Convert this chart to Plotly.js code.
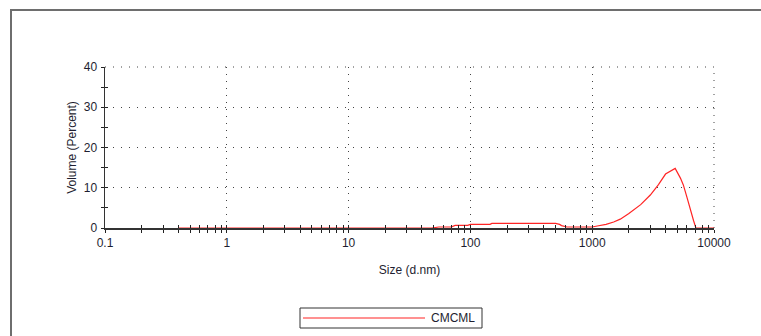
<!DOCTYPE html>
<html>
<head>
<meta charset="utf-8">
<script src="https://cdn.plot.ly/plotly-3.0.1.min.js"></script>
<style>
  html, body { margin: 0; padding: 0; background: #fff; }
  #wrap { position: relative; width: 761px; height: 336px; overflow: hidden; }
  #chart { position: absolute; left: 0; top: 0; width: 761px; height: 336px; }
  #frame { position: absolute; left: 10px; top: 9px; width: 760px; height: 340px;
           border-left: 2px solid #6e6e6e; border-top: 2px solid #6e6e6e; pointer-events: none; }
</style>
</head>
<body>
<div id="wrap">
  <div id="chart"></div>
  <div id="frame"></div>
</div>
<script>
// Size distribution by volume (Zetasizer-style report)
const sampleName = 'CMCML';
const sizeNm = [0.4, 48, 55, 70, 75, 95, 100, 145, 150, 480, 500, 540, 560, 620, 1000, 1100,
                1300, 1500, 1700, 2000, 2500, 3000, 3500, 4000, 4500, 4800, 5300, 5600, 6000,
                6400, 6800, 7100, 10000];
const volumePct = [0, 0, 0.25, 0.3, 0.65, 0.65, 0.9, 0.9, 1.15, 1.15, 1.15, 0.9, 0.6, 0.25, 0.25, 0.5,
                   0.9, 1.5, 2.2, 3.6, 5.8, 8.2, 10.8, 13.4, 14.3, 14.8, 12.4, 10.7, 7.6,
                   4.3, 1.8, 0, 0];

const xTickVals = [0.1, 1, 10, 100, 1000, 10000];
const xTickText = ['0.1', '1', '10', '100', '1000', '10000'];
const yTickVals = [0, 10, 20, 30, 40];

// minor ticks at 2..9 of every decade, 5-unit steps on the volume axis
const xMinor = [];
for (let d = 0.1; d < 10000; d *= 10) {
  for (let k = 2; k <= 9; k++) xMinor.push(+(d * k).toPrecision(3));
}
const yMinor = [5, 15, 25, 35];

const labelFont = { family: 'Liberation Sans, Arial, sans-serif', size: 12, color: '#1e1e30' };
const xRange = [-1, 4];
const yRange = [0, 40];
const gridStyle = { color: '#444', width: 1 };

const traces = [
  {
    x: sizeNm, y: volumePct, type: 'scatter', mode: 'lines',
    line: { color: '#ff2424', width: 1.2 }, name: sampleName, showlegend: false,
    hoverinfo: 'skip'
  },
  // empty trace that keeps the tick-crossing overlay axes alive
  { x: [], y: [], xaxis: 'x2', yaxis: 'y2', type: 'scatter', mode: 'lines', showlegend: false }
];

const layout = {
  width: 761, height: 336,
  margin: { l: 105, r: 47, t: 67, b: 108 },
  paper_bgcolor: '#fff', plot_bgcolor: '#fff',
  showlegend: false,
  font: labelFont,
  xaxis: {
    type: 'log', range: xRange, tickmode: 'array', tickvals: xTickVals, ticktext: xTickText,
    ticks: 'outside', ticklen: 3, tickwidth: 1, tickcolor: '#222',
    minor: { tickmode: 'array', tickvals: xMinor, ticks: 'outside', ticklen: 3, tickcolor: '#222', showgrid: false },
    showline: true, linecolor: '#333', linewidth: 1.5,
    showgrid: true, gridcolor: gridStyle.color, gridwidth: 1, griddash: '1px,6px',
    zeroline: false, tickfont: labelFont,
    title: { text: 'Size (d.nm)', font: labelFont, standoff: 16 }
  },
  yaxis: {
    range: yRange, tickmode: 'array', tickvals: yTickVals,
    ticks: 'outside', ticklen: 3, tickwidth: 1, tickcolor: '#222',
    minor: { tickmode: 'array', tickvals: yMinor, ticks: 'outside', ticklen: 3, tickcolor: '#222', showgrid: false },
    showline: true, linecolor: '#333', linewidth: 1.5,
    showgrid: true, gridcolor: gridStyle.color, gridwidth: 1, griddash: '1px,7px',
    zeroline: false, tickfont: labelFont, ticklabelstandoff: 1,
    title: { text: 'Volume (Percent)', font: labelFont, standoff: 4 }
  },
  xaxis2: {
    type: 'log', range: xRange, overlaying: 'x', anchor: 'y2',
    tickmode: 'array', tickvals: xTickVals, ticks: 'inside', ticklen: 3, tickcolor: '#222',
    minor: { tickmode: 'array', tickvals: xMinor, ticks: 'inside', ticklen: 3, tickcolor: '#222', showgrid: false },
    showticklabels: false, showgrid: false, zeroline: false, showline: false
  },
  yaxis2: {
    range: yRange, overlaying: 'y', anchor: 'x2',
    tickmode: 'array', tickvals: yTickVals, ticks: 'inside', ticklen: 3, tickcolor: '#222',
    minor: { tickmode: 'array', tickvals: yMinor, ticks: 'inside', ticklen: 3, tickcolor: '#222', showgrid: false },
    showticklabels: false, showgrid: false, zeroline: false, showline: false
  },
  shapes: [
    // dotted grid lines along the top and right edges of the plot area
    { type: 'line', xref: 'paper', yref: 'paper', x0: 0, x1: 1, y0: 1, y1: 1, layer: 'below',
      line: { color: gridStyle.color, width: 1, dash: '1px,7px' } },
    { type: 'line', xref: 'paper', yref: 'paper', x0: 1, x1: 1, y0: 0, y1: 1, layer: 'below',
      line: { color: gridStyle.color, width: 1, dash: '1px,6px' } },
    // legend box drawn below the plot
    { type: 'rect', xref: 'paper', yref: 'paper', x0: 195 / 609, x1: 377 / 609,
      y0: -100 / 161, y1: -80 / 161, line: { color: '#333', width: 1 }, fillcolor: '#fff' },
    { type: 'line', xref: 'paper', yref: 'paper', x0: 198 / 609, x1: 320 / 609,
      y0: -90 / 161, y1: -90 / 161, line: { color: '#ff2424', width: 1.2 } }
  ],
  annotations: [
    { xref: 'paper', yref: 'paper', x: 324 / 609, y: -90 / 161, xanchor: 'left', yanchor: 'middle',
      text: sampleName, showarrow: false, font: labelFont }
  ]
};

Plotly.newPlot('chart', traces, layout, { displayModeBar: false, staticPlot: true });
</script>
</body>
</html>
